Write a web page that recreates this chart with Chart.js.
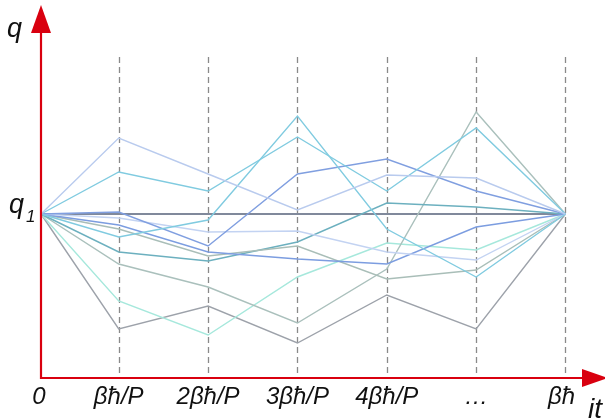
<!DOCTYPE html>
<html>
<head>
<meta charset="utf-8">
<script src="https://cdn.jsdelivr.net/npm/chart.js@4/dist/chart.umd.min.js"></script>
<style>
  html, body { margin: 0; padding: 0; background: #fff; }
  #wrap { width: 605px; height: 419px; }
</style>
</head>
<body>
<div id="wrap"><canvas id="pathChart" width="605" height="419"></canvas></div>
<script>
// time slices (in units of βħ/P, origin slightly closer) and their labels
const tPos = [0, 0.87, 1.87, 2.87, 3.87, 4.87, 5.87];
const tickLabels = ['0', 'βħ/P', '2βħ/P', '3βħ/P', '4βħ/P', '…', 'βħ'];
const q1 = 1.64;

// sampled paths, q at each slice (all start and end at q1)
const pathA = [1.64, 2.40, 2.04, 1.68, 2.03, 2.00, 1.64];
const pathB = [1.64, 2.06, 1.87, 2.41, 1.87, 2.50, 1.64];
const pathC = [1.64, 1.41, 1.58, 2.62, 1.49, 1.01, 1.64];
const pathD = [1.64, 1.66, 1.32, 2.04, 2.19, 1.87, 1.64];
const pathE = [1.64, 1.64, 1.64, 1.64, 1.64, 1.64, 1.64];
const pathF = [1.64, 1.60, 1.46, 1.47, 1.26, 1.18, 1.64];
const pathG = [1.64, 1.53, 1.26, 1.19, 1.14, 1.51, 1.64];
const pathH = [1.64, 1.49, 1.22, 1.32, 0.99, 1.08, 1.64];
const pathI = [1.64, 1.26, 1.17, 1.36, 1.75, 1.71, 1.64];
const pathJ = [1.64, 1.14, 0.91, 0.55, 1.09, 2.66, 1.64];
const pathK = [1.64, 0.77, 0.43, 1.01, 1.35, 1.28, 1.64];
const pathL = [1.64, 0.49, 0.72, 0.35, 0.83, 0.49, 1.64];

const paths = [
    { data: pathA, color: '#b9cbee' },
    { data: pathB, color: '#80cbe0' },
    { data: pathC, color: '#80cbe0' },
    { data: pathD, color: '#809fe0' },
    { data: pathF, color: '#c3d3f2' },
    { data: pathG, color: '#7c9de0' },
    { data: pathH, color: '#a9beb8' },
    { data: pathI, color: '#6cb0bf' },
    { data: pathJ, color: '#aac0bc' },
    { data: pathK, color: '#a6e8dc' },
    { data: pathL, color: '#9da2aa' },
    { data: pathE, color: '#56627a' }
];

const RED = '#d9000f';
const FONT = 'italic 24px "Liberation Sans", Arial, sans-serif';

function arrowHead(ctx, x, y, dir) {
    ctx.beginPath();
    if (dir === 'up') {
        ctx.moveTo(x, y);
        ctx.lineTo(x - 10, y + 28);
        ctx.lineTo(x + 10, y + 28);
    } else {
        ctx.moveTo(x, y);
        ctx.lineTo(x - 26, y - 9);
        ctx.lineTo(x - 26, y + 9);
    }
    ctx.closePath();
    ctx.fill();
}

const guides = {
    id: 'guides',
    beforeDatasetsDraw(chart) {
        const { ctx, scales: { x, y } } = chart;
        ctx.save();
        ctx.strokeStyle = '#8a8a8a';
        ctx.lineWidth = 1.3;
        ctx.setLineDash([6, 4]);
        tPos.slice(1).forEach(t => {
            const px = Math.round(x.getPixelForValue(t)) + 0.5;
            ctx.beginPath();
            ctx.moveTo(px, 57);
            ctx.lineTo(px, y.getPixelForValue(0));
            ctx.stroke();
        });
        ctx.restore();
    },
    afterDatasetsDraw(chart) {
        const { ctx, scales: { x, y } } = chart;
        const x0 = x.getPixelForValue(0);
        const y0 = y.getPixelForValue(0);
        ctx.save();
        // axes
        ctx.strokeStyle = RED;
        ctx.fillStyle = RED;
        ctx.lineWidth = 2.2;
        ctx.beginPath();
        ctx.moveTo(x0, 25);
        ctx.lineTo(x0, y0);
        ctx.lineTo(585, y0);
        ctx.stroke();
        arrowHead(ctx, x0, 5, 'up');
        arrowHead(ctx, 608, y0, 'right');

        // labels
        ctx.fillStyle = '#111';
        ctx.font = FONT;
        ctx.textAlign = 'center';
        ctx.textBaseline = 'alphabetic';
        tickLabels.forEach((lab, i) => {
            let px = x.getPixelForValue(tPos[i]);
            if (i === 0) px -= 2;
            if (i === tickLabels.length - 1) px -= 4;
            ctx.fillText(lab, px, 404);
        });

        ctx.font = 'italic 28px "Liberation Sans", Arial, sans-serif';
        ctx.textAlign = 'left';
        ctx.fillText('it', 588, 418);

        ctx.font = 'italic 27px "Liberation Sans", Arial, sans-serif';
        ctx.fillText('q', 7, 37);
        const qy = y.getPixelForValue(q1);
        ctx.fillText('q', 9, qy - 1);
        ctx.font = 'italic 17px "Liberation Sans", Arial, sans-serif';
        ctx.fillText('1', 26, qy + 8);
        ctx.restore();
    }
};

new Chart(document.getElementById('pathChart'), {
    type: 'line',
    data: {
        datasets: paths.map(p => ({
            data: p.data.map((q, i) => ({ x: tPos[i], y: q })),
            borderColor: p.color,
            borderWidth: 1.4,
            pointRadius: 0,
            tension: 0,
            fill: false,
            clip: false
        }))
    },
    options: {
        responsive: false,
        animation: false,
        layout: { padding: { left: 41, right: 2, top: 5, bottom: 41 } },
        plugins: { legend: { display: false }, tooltip: { enabled: false } },
        scales: {
            x: { type: 'linear', min: 0, max: 6.29, display: false },
            y: { type: 'linear', min: 0, max: 3.73, display: false }
        }
    },
    plugins: [guides]
});
</script>
</body>
</html>
